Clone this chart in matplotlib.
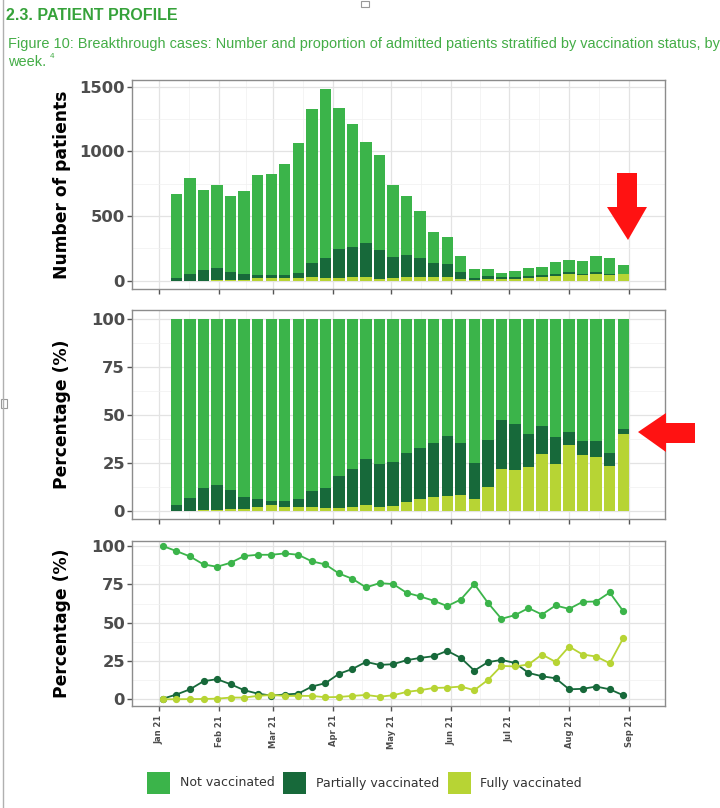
import matplotlib
matplotlib.use("Agg")
import matplotlib.pyplot as plt
from matplotlib.patches import Polygon, Rectangle
from matplotlib.lines import Line2D
from matplotlib import font_manager
import numpy as np
import pandas as pd

W, H = 720, 808
C_NOT, C_PART, C_FULL = "#3bb44a", "#17693a", "#b7d434"
plt.rcParams["font.family"] = "DejaVu Sans"

# weekly % of admitted patients by vaccination status (35 weeks, from 3 Jan 2021)
not_vacc = [100.0, 96.7, 93.2, 88.0, 86.5, 89.1, 93.5, 94.3, 94.3, 95.2, 94.3, 90.0,
            88.0, 82.1, 78.6, 73.0, 75.8, 75.2, 69.5, 67.1, 64.3, 60.8, 65.1, 75.2,
            63.0, 52.5, 54.9, 59.5, 55.3, 61.2, 59.0, 63.6, 63.8, 69.7, 57.5]
part_vacc = [0.4, 3.1, 6.5, 11.8, 13.1, 9.8, 5.9, 3.7, 2.4, 3.1, 3.7, 8.3,
             10.5, 16.6, 19.8, 24.4, 22.4, 22.9, 25.5, 27.0, 28.1, 31.6, 27.0, 18.7,
             24.2, 25.7, 23.7, 17.2, 15.0, 13.7, 6.5, 6.8, 8.3, 6.5, 2.6]
full_vacc = [0.0, 0.0, 0.1, 0.2, 0.4, 1.1, 1.1, 2.2, 2.8, 2.2, 2.2, 2.2,
             1.3, 1.5, 2.2, 2.8, 1.7, 2.6, 4.8, 5.9, 7.4, 7.6, 8.3, 5.9,
             12.6, 21.8, 21.4, 22.7, 29.2, 24.4, 34.4, 29.2, 27.9, 23.5, 39.9]
# weekly number of admitted patients (weeks 2-35, bars)
totals = [670, 791, 701, 737, 652, 693, 814, 827, 905, 1064, 1330, 1485,
          1338, 1209, 1075, 974, 737, 657, 539, 376, 335, 193, 93, 90,
          59, 72, 95, 103, 142, 162, 149, 191, 173, 124]

weeks = pd.date_range("2021-01-03", periods=35, freq="7D")
bar_weeks = weeks[1:]
months = pd.date_range("2021-01-01", "2021-09-01", freq="MS")
month_labels = [m.strftime("%b %y") for m in months]
mid_months = months[:-1] + (months[1:] - months[:-1]) / 2
XLIM = (pd.Timestamp("2020-12-18"), pd.Timestamp("2021-09-19 14:00"))

nv, pv, fv = (np.array(a[1:]) for a in (not_vacc, part_vacc, full_vacc))
tot_pct = nv + pv + fv
sh_n, sh_p, sh_f = nv / tot_pct * 100, pv / tot_pct * 100, fv / tot_pct * 100
tot = np.array(totals, dtype=float)

fig = plt.figure(figsize=(W / 100, H / 100), dpi=100)


def px_axes(left, top, right, bottom):
    return fig.add_axes([left / W, 1 - bottom / H, (right - left) / W, (bottom - top) / H])


def style(ax, ymajor, yminor, ylim):
    ax.set_xlim(XLIM)
    ax.set_ylim(ylim)
    ax.set_yticks(ymajor)
    ax.set_yticks(yminor, minor=True)
    ax.set_xticks(months)
    ax.set_xticks(mid_months, minor=True)
    ax.grid(which="major", color="#e3e3e3", lw=0.9)
    ax.grid(which="minor", color="#f0f0f0", lw=0.5)
    ax.set_axisbelow(True)
    for s in ax.spines.values():
        s.set_color("#8c8c8c")
        s.set_linewidth(1.0)
    ax.tick_params(which="major", length=3.5, width=1, color="#555555",
                   labelsize=11.8, labelcolor="#4d4d4d", pad=1.5)
    ax.tick_params(which="minor", length=0)
    ax.set_yticklabels([str(v) for v in ymajor], fontweight="bold")
    ax.set_xticklabels([])


bw = 5.9
ax1 = px_axes(132, 80, 665, 289)
ax1.bar(bar_weeks, tot * sh_f / 100, width=bw, color=C_FULL)
ax1.bar(bar_weeks, tot * sh_p / 100, width=bw, bottom=tot * sh_f / 100, color=C_PART)
ax1.bar(bar_weeks, tot * sh_n / 100, width=bw, bottom=tot * (sh_f + sh_p) / 100, color=C_NOT)
style(ax1, [0, 500, 1000, 1500], [250, 750, 1250], (-64, 1552))

ax2 = px_axes(132, 310, 665, 519)
ax2.bar(bar_weeks, sh_f, width=bw, color=C_FULL)
ax2.bar(bar_weeks, sh_p, width=bw, bottom=sh_f, color=C_PART)
ax2.bar(bar_weeks, sh_n, width=bw, bottom=sh_f + sh_p, color=C_NOT)
style(ax2, [0, 25, 50, 75, 100], [12.5, 37.5, 62.5, 87.5], (-4.3, 104.7))

ax3 = px_axes(132, 541, 665, 706)
for vals, c in ((not_vacc, C_NOT), (part_vacc, C_PART), (full_vacc, C_FULL)):
    ax3.plot(weeks, vals, color=c, lw=1.3, marker="o", ms=4.2, zorder=3)
style(ax3, [0, 25, 50, 75, 100], [12.5, 37.5, 62.5, 87.5], (-4.4, 103.3))
ax3.set_xticklabels(month_labels, rotation=90, fontsize=6, fontweight="bold", color="#4d4d4d")
ax3.tick_params(axis="x", pad=3)

for yc, lab in ((184.5, "Number of patients"), (414.5, "Percentage (%)"), (623.5, "Percentage (%)")):
    fig.text(62 / W, 1 - yc / H, lab, rotation=90, ha="center", va="center",
             fontsize=12.3, fontweight="bold", color="black")

# header text
names = {f.name for f in font_manager.fontManager.ttflist}
narrow = "Liberation Sans Narrow" if "Liberation Sans Narrow" in names else "Liberation Sans"
fig.text(6 / W, 1 - 15 / H, "2.3. PATIENT PROFILE", family=narrow, fontweight="bold",
         fontsize=14 if narrow.endswith("Narrow") else 11.5, color="#36a23a", va="center")
cap = fig.text(8 / W, 1 - 44 / H,
               "Figure 10: Breakthrough cases: Number and proportion of admitted patients "
               "stratified by vaccination status, by",
               family=narrow, fontsize=12, color="#44ad47", va="center")
fig.canvas.draw()
fs = 12 * 709 / cap.get_window_extent().width
cap.set_fontsize(fs)
wk = fig.text(8 / W, 1 - 62 / H, "week. ", family=narrow, fontsize=fs, color="#44ad47", va="center")
fig.canvas.draw()
wx = 8 + wk.get_window_extent().width
fig.text(wx / W, 1 - 57 / H, "4", family=narrow, fontsize=fs * 0.55, color="#44ad47", va="center")

# red arrows
def px_poly(pts):
    return Polygon([(x / W, 1 - y / H) for x, y in pts], closed=True, transform=fig.transFigure,
                   facecolor="#ff1212", edgecolor="none", zorder=10)

fig.patches.append(px_poly([(617, 173), (637, 173), (637, 207), (647, 207), (628, 240), (607, 207), (617, 207)]))
fig.patches.append(px_poly([(638, 432), (666, 413), (666, 423), (695, 423), (695, 443), (666, 443), (666, 452)]))

# legend
for x0, tx, c, lab in ((147, 180, C_NOT, "Not vaccinated"), (283, 316, C_PART, "Partially vaccinated"),
                       (448, 480, C_FULL, "Fully vaccinated")):
    fig.patches.append(Rectangle((x0 / W, 1 - 794 / H), 23 / W, 22 / H, transform=fig.transFigure,
                                 facecolor=c, edgecolor="none"))
    fig.text(tx / W, 1 - 783 / H, lab, fontsize=9, color="#333333", va="center")

# page decorations (left border, picture handles)
fig.lines.append(Line2D([3 / W, 3 / W], [0, 1], transform=fig.transFigure, color="#b0b0b0", lw=1))
fig.patches.append(Rectangle((0.5 / W, 1 - 408 / H), 6 / W, 9 / H, transform=fig.transFigure,
                             facecolor="white", edgecolor="#999999", lw=0.8))
fig.patches.append(Rectangle((361 / W, 1 - 7 / H), 8 / W, 6 / H, transform=fig.transFigure,
                             facecolor="white", edgecolor="#999999", lw=0.8))

fig.savefig("out.png", dpi=100)
